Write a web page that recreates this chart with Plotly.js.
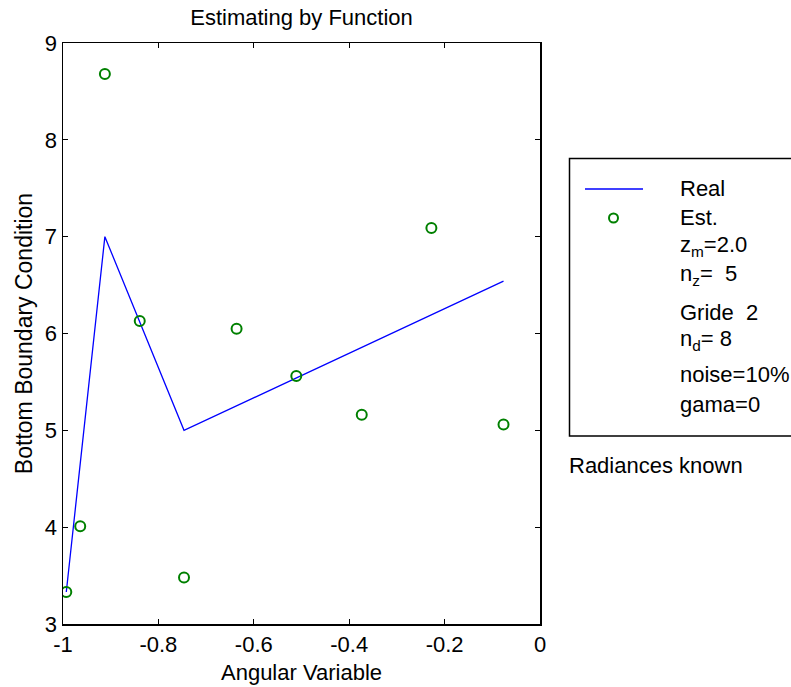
<!DOCTYPE html>
<html><head><meta charset="utf-8">
<script src="https://cdn.plot.ly/plotly-3.0.1.min.js"></script>
<style>body{margin:0;background:#fff}#chart{width:791px;height:687px}</style>
</head><body><div id="chart"></div>
<script>
// Data
const realX = [-0.9931, -0.9122, -0.7463, -0.0765];
const realY = [3.33, 7.0, 5.0, 6.54];
const estX = [-0.9931, -0.9639, -0.9122, -0.8391, -0.7463, -0.6361, -0.5109, -0.3737, -0.2277, -0.0765];
const estY = [3.33, 4.01, 8.68, 6.13, 3.48, 6.05, 5.56, 5.16, 7.09, 5.06];
const xTicks = [-1, -0.8, -0.6, -0.4, -0.2, 0];
const xTickText = ['-1', '-0.8', '-0.6', '-0.4', '-0.2', '0'];
const yTicks = [3, 4, 5, 6, 7, 8, 9];
const legendLines = ['Real', 'Est.', 'z<sub>m</sub>=2.0', 'n<sub>z</sub>=  5', 'Gride  2', 'n<sub>d</sub>= 8', 'noise=10%', 'gama=0'];
const footNote = 'Radiances known';

const W = 791, H = 687;
const L = 63, R = 540, T = 43, B = 624;
const px = x => (x - L) / (R - L);
const py = y => (B - y) / (B - T);
const FONT = 'Liberation Sans, Arial, sans-serif';
const FS = 22;

const traces = [
  {x: realX, y: realY, mode: 'lines', name: 'Real', line: {color: '#0000ff', width: 1.3}, hoverinfo: 'skip'},
  {x: estX, y: estY, mode: 'markers', name: 'Est.', marker: {symbol: 'circle-open', color: '#008000', size: 10, line: {width: 2, color: '#008000'}}, hoverinfo: 'skip'}
];

const rowY = [189, 218, 246, 275, 312, 340, 374, 404];
const annotations = legendLines.map((t, i) => ({
  xref: 'paper', yref: 'paper', x: px(678), y: py(rowY[i]), xanchor: 'left', yanchor: 'middle',
  text: t, showarrow: false, font: {family: FONT, size: FS, color: '#000'}
}));
annotations.push({xref: 'paper', yref: 'paper', x: px(567), y: py(466), xanchor: 'left', yanchor: 'middle',
  text: footNote, showarrow: false, font: {family: FONT, size: FS, color: '#000'}});

const shapes = [
  {type: 'rect', xref: 'paper', yref: 'paper', x0: px(569.5), x1: px(800), y0: py(436), y1: py(158.5),
   line: {color: '#000', width: 1.5}, fillcolor: 'rgba(0,0,0,0)'},
  {type: 'line', xref: 'paper', yref: 'paper', x0: px(585), x1: px(643), y0: py(189), y1: py(189),
   line: {color: '#0000ff', width: 1.3}},
  {type: 'circle', xref: 'paper', yref: 'paper', x0: px(609), x1: px(618), y0: py(222.5), y1: py(213.5),
   line: {color: '#008000', width: 2}}
];

const layout = {
  width: W, height: H,
  margin: {l: L, r: W - R, t: T, b: H - B, pad: 0},
  paper_bgcolor: '#fff', plot_bgcolor: '#fff',
  showlegend: false,
  font: {family: FONT, size: FS, color: '#000'},
  title: {text: 'Estimating by Function', x: 0.5 * (L + R) / W, xanchor: 'center', y: 1 - 17 / H, yanchor: 'middle',
    font: {family: FONT, size: FS, color: '#000'}},
  xaxis: {range: [-1, 0], tickvals: xTicks, ticktext: xTickText, ticks: 'inside', ticklen: 5, tickcolor: '#000',
    showline: true, linecolor: '#000', linewidth: 1.5, mirror: 'ticks', showgrid: false, zeroline: false,
    tickfont: {family: FONT, size: FS}, title: {text: 'Angular Variable', standoff: 8, font: {family: FONT, size: FS}}},
  yaxis: {range: [3, 9], tickvals: yTicks, ticks: 'inside', ticklen: 5, tickcolor: '#000',
    showline: true, linecolor: '#000', linewidth: 1.5, mirror: 'ticks', showgrid: false, zeroline: false,
    tickfont: {family: FONT, size: FS}, title: {text: 'Bottom Boundary Condition', standoff: 6, font: {family: FONT, size: 23}}},
  annotations: annotations,
  shapes: shapes
};

Plotly.newPlot('chart', traces, layout, {staticPlot: true, displayModeBar: false});
</script></body></html>
